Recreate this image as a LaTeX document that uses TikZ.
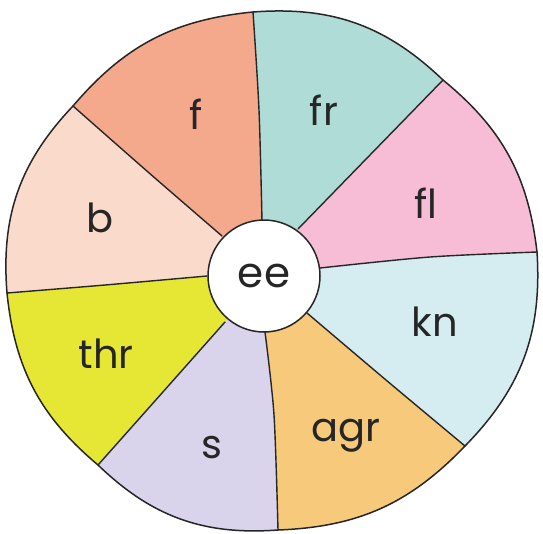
\documentclass[tikz,border=0pt]{standalone}
\usepackage{fontspec}
\setmainfont{Poppins}
\usetikzlibrary{calc}
\definecolor{cF}{HTML}{F5A98C}
\definecolor{cB}{HTML}{FADACB}
\definecolor{cFR}{HTML}{AFDCD6}
\definecolor{cFL}{HTML}{F7BDD6}
\definecolor{cKN}{HTML}{D5ECF1}
\definecolor{cAGR}{HTML}{F7C97A}
\definecolor{cS}{HTML}{DAD3EC}
\definecolor{cTHR}{HTML}{E6E734}
\definecolor{ink}{HTML}{262626}
\tikzset{
  outline/.style={draw=ink, line width=1.5pt, line join=round},
  spoke/.style={draw=ink, line width=1.4pt, line cap=round},
  lbl/.style={text=ink, font=\fontsize{40}{40}\selectfont, inner sep=0pt},
  hub/.style={circle, draw=ink, line width=1.5pt, fill=white, minimum size=112pt, inner sep=0pt, text=ink, font=\fontsize{42}{42}\selectfont},
  arcseg/.style={bend left=#1}
}
\newcommand\wedgefill[3]{\fill[#3] (ctr) -- (I#1) -- (M#1) -- (O#1) -- ($(ctr)!1.6!(O#1)$) -- ($(ctr)!1.6!(O#2)$) -- (O#2) -- (M#2) -- (I#2) -- cycle;}
\def\outerpath{(O1) to[arcseg=24] (O2) to[arcseg=22] (O3) to[arcseg=24] (O4) to[arcseg=22] (O5) to[arcseg=24] (O6) to[arcseg=22] (O7) to[arcseg=24] (O8) to[arcseg=22] (O1) -- cycle}
\begin{document}
\begin{tikzpicture}[x=1pt,y=-1pt]
\useasboundingbox (0,0) rectangle (543,533);
\fill[white] (0,0) rectangle (543,533);
\coordinate (ctr) at (264,276);
% spoke inner ends, mid points, outer ends
\coordinate (I1) at (262,221); \coordinate (M1) at (259,110); \coordinate (O1) at (253,12);
\coordinate (I2) at (298,229); \coordinate (M2) at (370,155); \coordinate (O2) at (443,80);
\coordinate (I3) at (320,268); \coordinate (M3) at (430,257); \coordinate (O3) at (537,252);
\coordinate (I4) at (307,313); \coordinate (M4) at (386,380); \coordinate (O4) at (465,446);
\coordinate (I5) at (265,332); \coordinate (M5) at (274,415); \coordinate (O5) at (278,530);
\coordinate (I6) at (225,322); \coordinate (M6) at (162,393); \coordinate (O6) at (98,465);
\coordinate (I7) at (207,276); \coordinate (M7) at (105,285); \coordinate (O7) at (7,293);
\coordinate (I8) at (222,236); \coordinate (M8) at (148,172); \coordinate (O8) at (73,106);
\begin{scope}
  \clip \outerpath;
  \wedgefill{1}{2}{cFR}
  \wedgefill{2}{3}{cFL}
  \wedgefill{3}{4}{cKN}
  \wedgefill{4}{5}{cAGR}
  \wedgefill{5}{6}{cS}
  \wedgefill{6}{7}{cTHR}
  \wedgefill{7}{8}{cB}
  \wedgefill{8}{1}{cF}
\end{scope}
\foreach \k in {1,...,8}{
  \draw[spoke] plot[smooth] coordinates {(I\k) (M\k) (O\k)};
}
\draw[outline] \outerpath;
\node[hub] (ee) at (ctr) {ee};
\node[lbl] (f) at (196,114) {f};
\node[lbl] (fr) at (324,110) {fr};
\node[lbl] (fl) at (426,203) {fl};
\node[lbl] (kn) at (435,322) {kn};
\node[lbl] (agr) at (346,436) {agr};
\node[lbl] (s) at (212,448) {s};
\node[lbl] (thr) at (106,354) {thr};
\node[lbl] (b) at (100,218) {b};
\end{tikzpicture}
\end{document}
